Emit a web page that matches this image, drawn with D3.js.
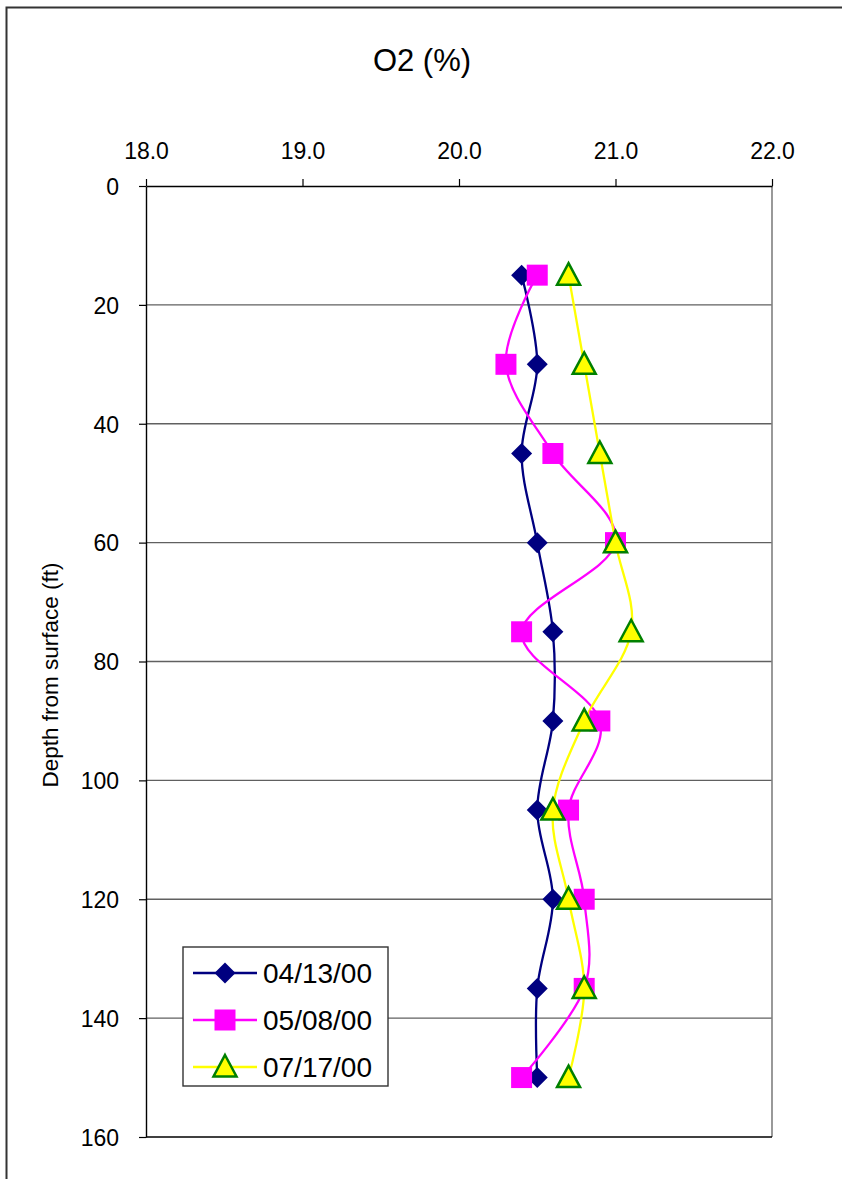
<!DOCTYPE html>
<html>
<head>
<meta charset="utf-8">
<script src="https://cdn.jsdelivr.net/npm/d3@7"></script>
<style>
  html, body { margin: 0; padding: 0; background: #fff; }
  svg { display: block; }
  text { font-family: Arial, "Liberation Sans", sans-serif; fill: #000; }
</style>
</head>
<body>
<svg id="chart" width="842" height="1179"></svg>
<script>
// Sampling depths (ft)
const depths = [15, 30, 45, 60, 75, 90, 105, 120, 135, 150];

// O2 concentration (%) per sampling date
const o2_041300 = [20.4, 20.5, 20.4, 20.5, 20.6, 20.6, 20.5, 20.6, 20.5, 20.5];
const o2_050800 = [20.5, 20.3, 20.6, 21.0, 20.4, 20.9, 20.7, 20.8, 20.8, 20.4];
const o2_071700 = [20.7, 20.8, 20.9, 21.0, 21.1, 20.8, 20.6, 20.7, 20.8, 20.7];

const seriesNames = ["04/13/00", "05/08/00", "07/17/00"];
const xTicks = [18.0, 19.0, 20.0, 21.0, 22.0];
const yTicks = [0, 20, 40, 60, 80, 100, 120, 140, 160];

const series = [
  { name: seriesNames[0], values: o2_041300, line: "#000080", marker: "diamond", fill: "#000080", stroke: "none" },
  { name: seriesNames[1], values: o2_050800, line: "#FF00FF", marker: "square", fill: "#FF00FF", stroke: "none" },
  { name: seriesNames[2], values: o2_071700, line: "#FFFF00", marker: "triangle", fill: "#FFFF00", stroke: "#008000" }
];

const FONT = "Arial, 'Liberation Sans', sans-serif";
const svg = d3.select("#chart");

// Outer chart frame (extends beyond the right/bottom edges)
svg.append("rect")
  .attr("x", 6.5).attr("y", 7.5)
  .attr("width", 900).attr("height", 1300)
  .attr("fill", "none").attr("stroke", "#333").attr("stroke-width", 2);

const plot = { left: 146, right: 772, top: 186, bottom: 1137 };

const x = d3.scaleLinear().domain([18, 22]).range([plot.left, plot.right]);
const y = d3.scaleLinear().domain([0, 160]).range([plot.top, plot.bottom]);

// Horizontal gridlines
svg.append("g")
  .selectAll("line")
  .data(yTicks.filter(t => t > 0 && t < 160))
  .join("line")
  .attr("x1", plot.left).attr("x2", plot.right)
  .attr("y1", d => y(d)).attr("y2", d => y(d))
  .attr("stroke", "#606060").attr("stroke-width", 1.4);

// Right border of plot area
svg.append("line")
  .attr("x1", plot.right).attr("x2", plot.right)
  .attr("y1", plot.top).attr("y2", plot.bottom)
  .attr("stroke", "#808080").attr("stroke-width", 1.6);

// Bottom border
svg.append("line")
  .attr("x1", plot.left).attr("x2", plot.right)
  .attr("y1", plot.bottom).attr("y2", plot.bottom)
  .attr("stroke", "#000").attr("stroke-width", 1.4);

// Top X axis
const xAxis = d3.axisTop(x).tickValues(xTicks).tickFormat(d3.format(".1f")).tickSize(7).tickSizeOuter(0);
const gx = svg.append("g").attr("transform", `translate(0,${plot.top})`).call(xAxis);
gx.attr("font-family", FONT).attr("font-size", 23);
gx.select(".domain").attr("stroke", "#000").attr("stroke-width", 1.4);
gx.selectAll(".tick line").attr("stroke", "#000").attr("stroke-width", 1.2);
gx.selectAll(".tick text").attr("y", -27).attr("dy", 0).attr("fill", "#000");

// Left Y axis
const yAxis = d3.axisLeft(y).tickValues(yTicks).tickSize(7).tickSizeOuter(0).tickPadding(20);
const gy = svg.append("g").attr("transform", `translate(${plot.left},0)`).call(yAxis);
gy.attr("font-family", FONT).attr("font-size", 23);
gy.select(".domain").attr("stroke", "#000").attr("stroke-width", 1.4);
gy.selectAll(".tick line").attr("stroke", "#000").attr("stroke-width", 1.2);
gy.selectAll(".tick text").attr("dy", "0.36em").attr("fill", "#000");

// Titles
svg.append("text")
  .attr("x", 422).attr("y", 71)
  .attr("text-anchor", "middle")
  .style("font-size", "31px")
  .text("O2 (%)");

svg.append("text")
  .attr("transform", `translate(58,675) rotate(-90)`)
  .attr("text-anchor", "middle")
  .style("font-size", "22.5px")
  .text("Depth from surface (ft)");

// Smoothed series lines
const line = d3.line()
  .x(d => x(d.v))
  .y(d => y(d.depth))
  .curve(d3.curveCatmullRom.alpha(0));

function markerPath(type) {
  if (type === "diamond") return "M0,-10.5L10.5,0L0,10.5L-10.5,0Z";
  if (type === "square") return "M-10.5,-10.5H10.5V10.5H-10.5Z";
  return "M0,-12L11.5,9.5H-11.5Z";
}

series.forEach(s => {
  const pts = depths.map((depth, i) => ({ depth, v: s.values[i] }));
  svg.append("path")
    .datum(pts)
    .attr("d", line)
    .attr("fill", "none")
    .attr("stroke", s.line)
    .attr("stroke-width", 2.3);
});

series.forEach(s => {
  const pts = depths.map((depth, i) => ({ depth, v: s.values[i] }));
  svg.append("g")
    .selectAll("path")
    .data(pts)
    .join("path")
    .attr("transform", d => `translate(${x(d.v)},${y(d.depth)})`)
    .attr("d", markerPath(s.marker))
    .attr("fill", s.fill)
    .attr("stroke", s.stroke)
    .attr("stroke-width", s.stroke === "none" ? 0 : 2.5);
});

// Legend
const legend = svg.append("g").attr("transform", "translate(183,947)");
legend.append("rect")
  .attr("x", 0).attr("y", 0).attr("width", 205).attr("height", 139)
  .attr("fill", "#fff").attr("stroke", "#333").attr("stroke-width", 1.4);

series.forEach((s, i) => {
  const cy = 26 + i * 47;
  legend.append("line")
    .attr("x1", 10).attr("x2", 74).attr("y1", cy).attr("y2", cy)
    .attr("stroke", s.line).attr("stroke-width", 2.3);
  legend.append("path")
    .attr("transform", `translate(42,${cy})`)
    .attr("d", markerPath(s.marker))
    .attr("fill", s.fill)
    .attr("stroke", s.stroke)
    .attr("stroke-width", s.stroke === "none" ? 0 : 2.5);
  legend.append("text")
    .attr("x", 80).attr("y", cy).attr("dy", "0.36em")
    .style("font-size", "28px")
    .text(s.name);
});
</script>
</body>
</html>
